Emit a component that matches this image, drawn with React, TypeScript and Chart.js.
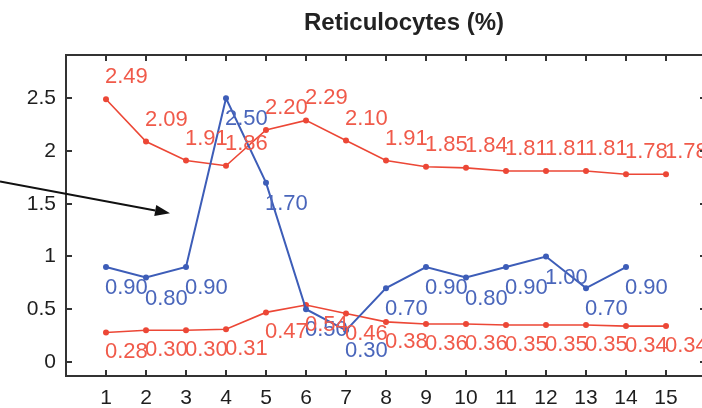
import React, { useEffect, useRef } from "react";
import { Chart, registerables } from "chart.js";

Chart.register(...registerables);

// ---- data ----
const days = [1, 2, 3, 4, 5, 6, 7, 8, 9, 10, 11, 12, 13, 14, 15];
const redHigh = [2.49, 2.09, 1.91, 1.86, 2.2, 2.29, 2.1, 1.91, 1.85, 1.84, 1.81, 1.81, 1.81, 1.78, 1.78];
const redLow = [0.28, 0.3, 0.3, 0.31, 0.47, 0.54, 0.46, 0.38, 0.36, 0.36, 0.35, 0.35, 0.35, 0.34, 0.34];
const blueSeries = [0.9, 0.8, 0.9, 2.5, 1.7, 0.5, 0.3, 0.7, 0.9, 0.8, 0.9, 1.0, 0.7, 0.9];
const yTickValues = [0, 0.5, 1, 1.5, 2, 2.5];
const yTickLabels = ["0", "0.5", "1", "1.5", "2", "2.5"];
const xTickValues = days;
const chartTitle = "Reticulocytes (%)";
// annotation arrow in data units
const arrowFrom = { x: -1.65, y: 1.71 };
const arrowTo = { x: 2.6, y: 1.41 };

const RED = "#ec4736";
const RED_TEXT = "#f05a4a";
const BLUE = "#3d5db8";
const BLUE_TEXT = "#4a66bb";
const FONT = "'Liberation Sans', Arial, Helvetica, sans-serif";

const toPoints = (vals: number[]) => vals.map((v, i) => ({ x: days[i], y: v }));

const decorPlugin = {
  id: "decor",
  beforeDraw(chart: any) {
    const { ctx, width, height } = chart;
    ctx.save();
    ctx.fillStyle = "#ffffff";
    ctx.fillRect(0, 0, width, height);
    ctx.restore();
  },
  afterDatasetsDraw(chart: any) {
    const { ctx } = chart;
    ctx.save();
    ctx.font = `22px ${FONT}`;
    ctx.textAlign = "left";
    ctx.textBaseline = "middle";
    chart.data.datasets.forEach((ds: any, di: number) => {
      const meta = chart.getDatasetMeta(di);
      ctx.fillStyle = ds.labelColor;
      meta.data.forEach((el: any, i: number) => {
        const v = ds.data[i].y;
        ctx.fillText(v.toFixed(2), el.x - 1, el.y + ds.labelShift);
      });
    });
    ctx.restore();
  },
  afterDraw(chart: any) {
    const { ctx, chartArea: a, scales } = chart;
    const x = scales.x;
    const y = scales.y;
    ctx.save();
    ctx.strokeStyle = "#333333";
    ctx.lineWidth = 2;
    ctx.strokeRect(a.left, a.top, a.right - a.left, a.bottom - a.top);
    ctx.lineWidth = 2;
    const tl = 6;
    ctx.beginPath();
    xTickValues.forEach((v) => {
      const px = Math.round(x.getPixelForValue(v));
      ctx.moveTo(px, a.bottom);
      ctx.lineTo(px, a.bottom - tl);
      ctx.moveTo(px, a.top);
      ctx.lineTo(px, a.top + tl);
    });
    yTickValues.forEach((v) => {
      const py = Math.round(y.getPixelForValue(v));
      ctx.moveTo(a.left, py);
      ctx.lineTo(a.left + tl, py);
      ctx.moveTo(a.right, py);
      ctx.lineTo(a.right - tl, py);
    });
    ctx.stroke();

    // title
    ctx.fillStyle = "#222222";
    ctx.font = `bold 24px ${FONT}`;
    ctx.textAlign = "center";
    ctx.textBaseline = "middle";
    ctx.fillText(chartTitle, (a.left + a.right) / 2 + 18, 23);

    // arrow
    const x0 = x.getPixelForValue(arrowFrom.x);
    const y0 = y.getPixelForValue(arrowFrom.y);
    const x1 = x.getPixelForValue(arrowTo.x);
    const y1 = y.getPixelForValue(arrowTo.y);
    const ang = Math.atan2(y1 - y0, x1 - x0);
    const hl = 15;
    const hw = 5.5;
    const bx = x1 - hl * Math.cos(ang);
    const by = y1 - hl * Math.sin(ang);
    ctx.strokeStyle = "#111111";
    ctx.fillStyle = "#111111";
    ctx.lineWidth = 2;
    ctx.beginPath();
    ctx.moveTo(x0, y0);
    ctx.lineTo(bx, by);
    ctx.stroke();
    ctx.beginPath();
    ctx.moveTo(x1, y1);
    ctx.lineTo(bx + hw * Math.sin(ang), by - hw * Math.cos(ang));
    ctx.lineTo(bx - hw * Math.sin(ang), by + hw * Math.cos(ang));
    ctx.closePath();
    ctx.fill();
    ctx.restore();
  },
};

export default function App() {
  const ref = useRef<HTMLCanvasElement | null>(null);

  useEffect(() => {
    if (!ref.current) return;
    const chart = new Chart(ref.current, {
      type: "line",
      data: {
        datasets: [
          {
            data: toPoints(blueSeries),
            borderColor: BLUE,
            backgroundColor: BLUE,
            borderWidth: 2,
            pointRadius: 3,
            pointBorderWidth: 0,
            order: 0,
            labelColor: BLUE_TEXT,
            labelShift: 21,
          } as any,
          {
            data: toPoints(redHigh),
            borderColor: RED,
            backgroundColor: RED,
            borderWidth: 1.6,
            pointRadius: 3,
            pointBorderWidth: 0,
            order: 1,
            labelColor: RED_TEXT,
            labelShift: -22,
          } as any,
          {
            data: toPoints(redLow),
            borderColor: RED,
            backgroundColor: RED,
            borderWidth: 1.6,
            pointRadius: 3,
            pointBorderWidth: 0,
            order: 1,
            labelColor: RED_TEXT,
            labelShift: 20,
          } as any,
        ],
      },
      options: {
        animation: false,
        responsive: false,
        maintainAspectRatio: false,
        layout: { padding: { left: 0, right: 6, top: 55, bottom: 0 } },
        plugins: {
          legend: { display: false },
          tooltip: { enabled: false },
          title: { display: false },
        },
        scales: {
          x: {
            type: "linear",
            min: 0,
            max: 16,
            grid: { display: false, drawTicks: false },
            border: { display: false },
            afterBuildTicks: (s: any) => {
              s.ticks = xTickValues.map((v) => ({ value: v }));
            },
            afterFit: (s: any) => {
              s.height = 32;
            },
            ticks: {
              color: "#1e1e1e",
              font: { family: FONT, size: 21 },
              padding: 10,
              maxRotation: 0,
              autoSkip: false,
              callback: (v: any) => String(v),
            },
          },
          y: {
            type: "linear",
            min: -0.133,
            max: 2.91,
            grid: { display: false, drawTicks: false },
            border: { display: false },
            afterBuildTicks: (s: any) => {
              s.ticks = yTickValues.map((v) => ({ value: v }));
            },
            afterFit: (s: any) => {
              s.width = 66;
            },
            ticks: {
              color: "#1e1e1e",
              font: { family: FONT, size: 21 },
              padding: 10,
              autoSkip: false,
              callback: (v: any) => {
                const i = yTickValues.indexOf(Number(v));
                return i >= 0 ? yTickLabels[i] : "";
              },
            },
          },
        },
      } as any,
      plugins: [decorPlugin],
    });
    return () => chart.destroy();
  }, []);

  return (
    <div
      style={{
        position: "fixed",
        left: 0,
        top: 0,
        width: 702,
        height: 408,
        overflow: "hidden",
        background: "#ffffff",
      }}
    >
      <canvas ref={ref} width={712} height={408} style={{ width: 712, height: 408, display: "block" }} />
    </div>
  );
}
